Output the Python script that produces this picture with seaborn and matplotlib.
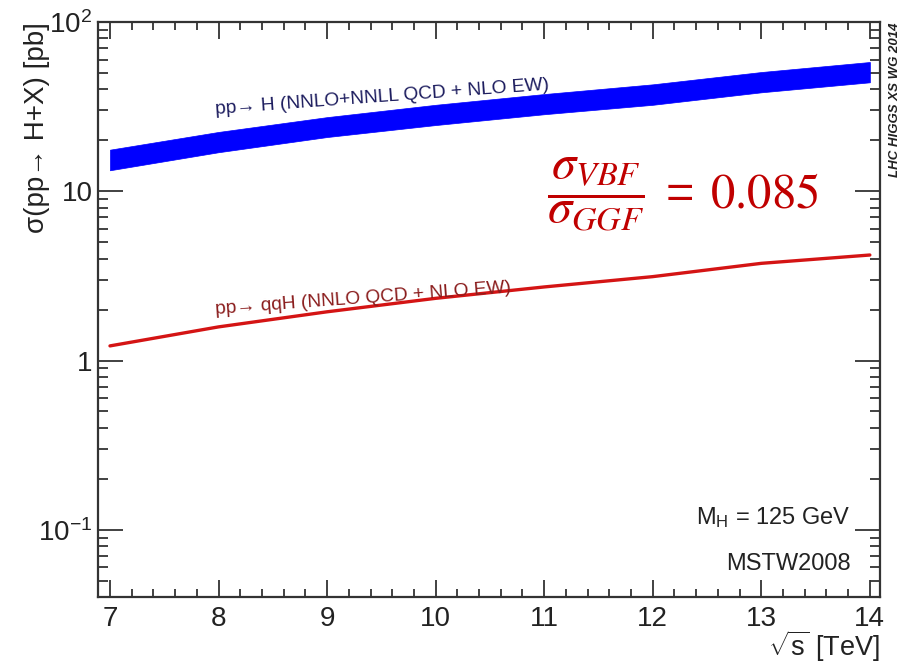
import matplotlib
matplotlib.use("Agg")
import matplotlib.pyplot as plt
import seaborn as sns
import numpy as np
import pandas as pd
from matplotlib.ticker import FixedLocator, FixedFormatter, LogLocator, MultipleLocator, NullFormatter

# centre-of-mass energies [TeV]
sqrt_s = [7, 8, 9, 10, 11, 12, 13, 14]
# gluon fusion band (lower / upper edge) [pb]
ggf_low = [13.3, 17.0, 20.9, 24.6, 28.5, 32.4, 38.4, 44.0]
ggf_high = [17.6, 22.4, 27.4, 32.4, 37.5, 42.8, 50.6, 58.0]
# vector boson fusion [pb]
vbf = [1.22, 1.58, 1.94, 2.33, 2.72, 3.13, 3.75, 4.20]

ytick_vals = [0.1, 1, 10, 100]
ytick_labels = ["10$^{-1}$", "1", "10", "10$^{2}$"]

df = pd.DataFrame({"sqrt_s": sqrt_s, "low": ggf_low, "high": ggf_high, "vbf": vbf})

sns.set_theme(style="ticks")
plt.rcParams["font.family"] = ["Liberation Sans", "DejaVu Sans"]
plt.rcParams["mathtext.fontset"] = "custom"
plt.rcParams["mathtext.rm"] = "Liberation Sans"
plt.rcParams["mathtext.it"] = "Liberation Sans:italic"
plt.rcParams["mathtext.default"] = "regular"

fig = plt.figure(figsize=(9.12, 6.65), dpi=100)
ax = fig.add_axes([0.1075, 0.102, 0.857, 0.865])

# ggF band
ax.fill_between(df["sqrt_s"], df["low"], df["high"], color="#0000ff", lw=0.5, zorder=2)
# VBF line
sns.lineplot(data=df, x="sqrt_s", y="vbf", color="#d41414", lw=2.4, ax=ax, zorder=3)

ax.set_yscale("log")
ax.set_xlim(6.89, 14.09)
ax.set_ylim(0.04, 100)

ax.xaxis.set_major_locator(MultipleLocator(1))
ax.xaxis.set_minor_locator(MultipleLocator(0.2))
ax.yaxis.set_major_locator(FixedLocator(ytick_vals))
ax.yaxis.set_major_formatter(FixedFormatter(ytick_labels))
ax.yaxis.set_minor_locator(LogLocator(base=10, subs=np.arange(2, 10)))
ax.yaxis.set_minor_formatter(NullFormatter())

ax.tick_params(axis="both", which="both", direction="in", top=True, right=True,
               color="#333333", width=1.3, labelsize=20, labelcolor="#222222")
ax.tick_params(axis="x", which="major", length=12, pad=6)
ax.tick_params(axis="x", which="minor", length=6)
ax.tick_params(axis="y", which="major", length=18, pad=4)
ax.tick_params(axis="y", which="minor", length=7)
for sp in ax.spines.values():
    sp.set_linewidth(1.6)
    sp.set_color("#333333")

ax.set_xlabel(r"$\sqrt{s}$ [TeV]", fontsize=19.5, loc="right", color="#222222")
ax.xaxis.set_label_coords(1.0, -0.055)
ax.set_ylabel("σ(pp→ H+X) [pb]", fontsize=20, loc="top", color="#222222")
ax.yaxis.set_label_coords(-0.062, 1.0)

# curve labels
ax.text(7.97, 28.6, "pp→ H (NNLO+NNLL QCD + NLO EW)", fontsize=13.8, color="#1c1c5e",
        rotation=4.2, rotation_mode="anchor", ha="left", va="baseline")
ax.text(7.97, 1.87, "pp→ qqH (NNLO QCD + NLO EW)", fontsize=13.8, color="#8a1c1c",
        rotation=4.2, rotation_mode="anchor", ha="left", va="baseline")

# ratio annotation
ax.text(0.748, 0.70,
        r"$\dfrac{\mathit{\sigma}_{\mathit{VBF}}}{\mathit{\sigma}_{\mathit{GGF}}}\;=\;\mathrm{0.085}$",
        transform=ax.transAxes, fontsize=35, color="#c00000", ha="center", va="center",
        math_fontfamily="stix")

ax.text(0.963, 0.127, "M$_{H}$ = 125 GeV", transform=ax.transAxes, fontsize=17,
        color="#222222", ha="right", va="baseline")
ax.text(0.963, 0.047, "MSTW2008", transform=ax.transAxes, fontsize=17,
        color="#222222", ha="right", va="baseline")

fig.text(0.981, 0.966, "LHC HIGGS XS WG 2014", fontsize=9.5, fontweight="bold", style="italic",
         rotation=90, ha="center", va="top", color="#222222")

plt.savefig("out.png", dpi=100)
